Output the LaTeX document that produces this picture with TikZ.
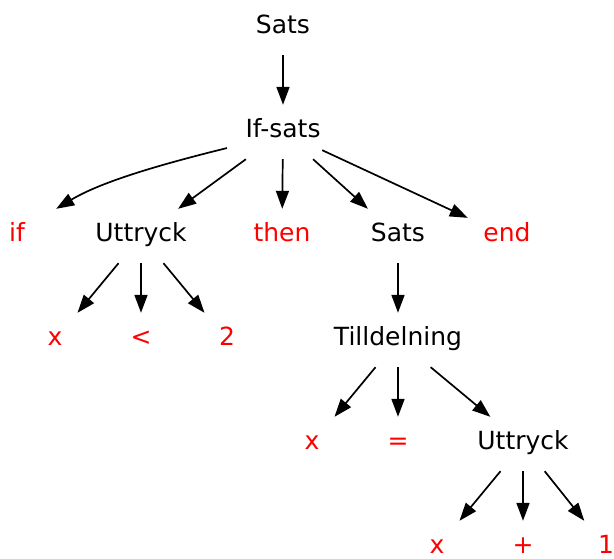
\documentclass[tikz,border=0pt]{standalone}
\usepackage{fontspec}
\setmainfont{DejaVu Sans}
\usetikzlibrary{arrows.meta}

\tikzset{
	nt/.style={minimum width=78pt, minimum height=54pt, inner sep=0pt,
		text height=18pt, text depth=7pt, font=\fontsize{25}{30}\selectfont},
	tm/.style={nt, text=red},
	edge/.style={-{Triangle[length=18pt,width=13pt]}, line width=1.7pt},
}

\begin{document}
\begin{tikzpicture}[x=1pt, y=1pt]
	
	\useasboundingbox (0,0) rectangle (614,-558);
	\clip (0,0) rectangle (614,-558);
	
	% rank 0 and 1
	\node [nt] (sats)     at (283, -28) {Sats};
	\node [nt] (ifsats)   at (283,-132) {If-sats};
	
	% rank 2
	\node [tm] (kwif)     at ( 17,-236) {if};
	\node [nt] (uttryckA) at (141,-236) {Uttryck};
	\node [tm] (kwthen)   at (282,-236) {then};
	\node [nt] (satsB)    at (398,-236) {Sats};
	\node [tm] (kwend)    at (507,-236) {end};
	
	% rank 3
	\node [tm] (xA)       at ( 55,-340) {x};
	\node [tm] (lt)       at (141,-340) {<};
	\node [tm] (two)      at (227,-340) {2};
	\node [nt] (tilldel)  at (398,-340) {Tilldelning};
	
	% rank 4
	\node [tm] (xB)       at (312,-444) {x};
	\node [tm] (eq)       at (398,-444) {=};
	\node [nt] (uttryckB) at (523,-444) {Uttryck};
	
	% rank 5
	\node [tm] (xC)       at (437,-548) {x};
	\node [tm] (plus)     at (523,-548) {+};
	\node [tm] (one)      at (606,-548) {1};
	
	\draw [edge] (sats)     -- (ifsats);
	\draw [edge] (ifsats) ++(-56,-16) to[out=194, in=31, looseness=0.8] (kwif.north east);
	\draw [edge] (ifsats)   -- (uttryckA);
	\draw [edge] (ifsats)   -- (kwthen);
	\draw [edge] (ifsats)   -- (satsB);
	\draw [edge] (ifsats)   -- (kwend);
	
	\draw [edge] (uttryckA) -- (xA);
	\draw [edge] (uttryckA) -- (lt);
	\draw [edge] (uttryckA) -- (two);
	\draw [edge] (satsB)    -- (tilldel);
	
	\draw [edge] (tilldel)  -- (xB);
	\draw [edge] (tilldel)  -- (eq);
	\draw [edge] (tilldel)  -- (uttryckB);
	
	\draw [edge] (uttryckB) -- (xC);
	\draw [edge] (uttryckB) -- (plus);
	\draw [edge] (uttryckB) -- (one);
	
\end{tikzpicture}
\end{document}
